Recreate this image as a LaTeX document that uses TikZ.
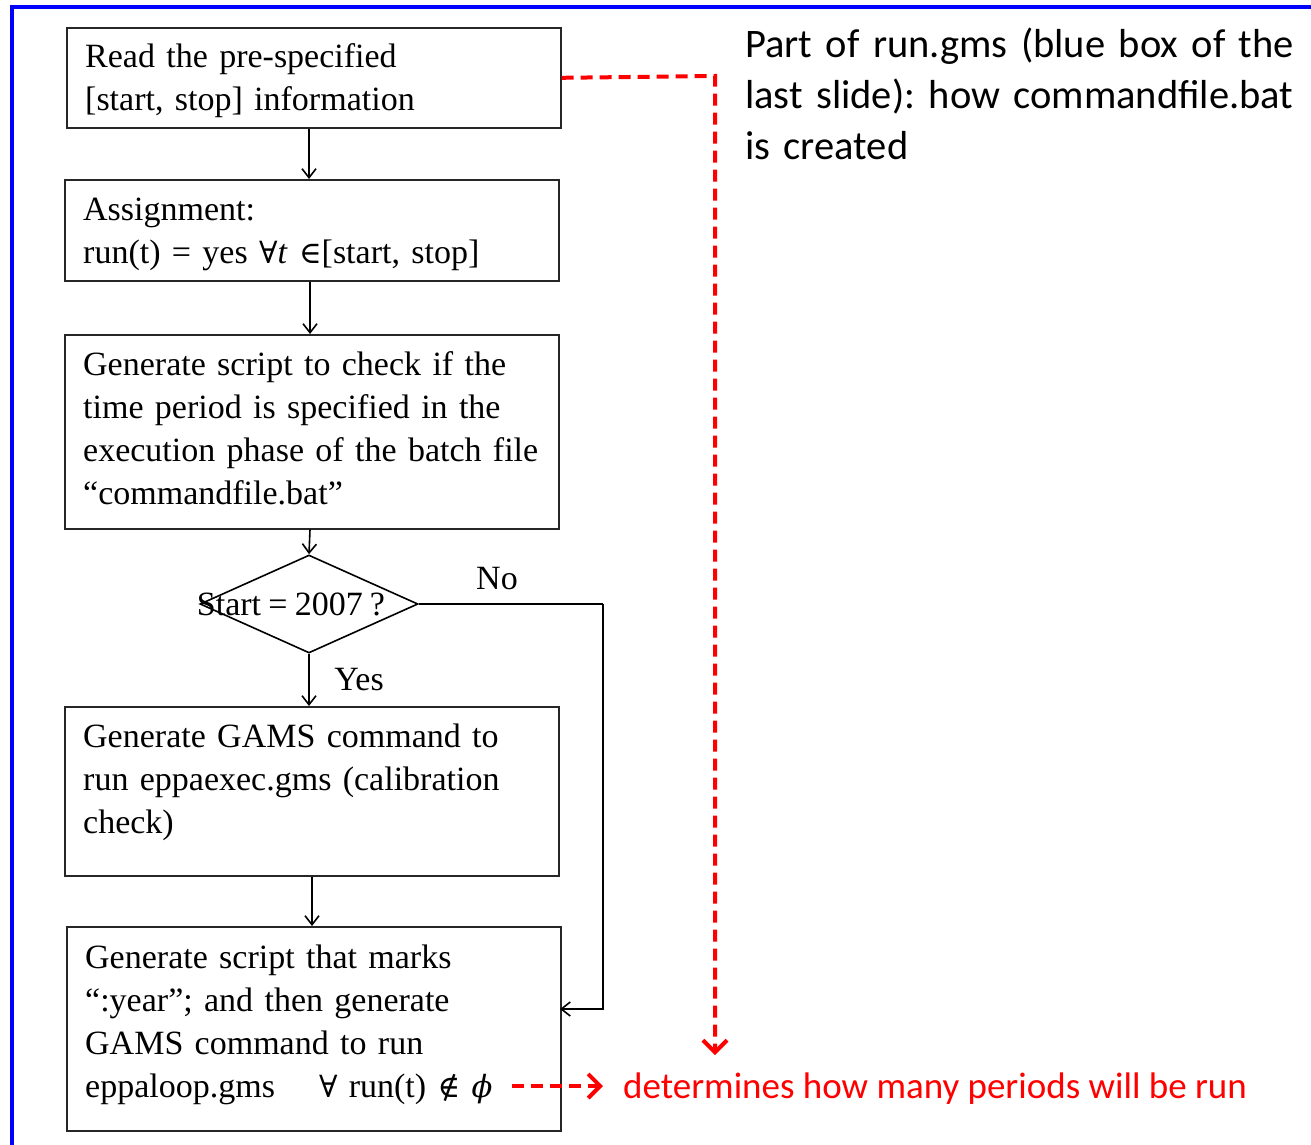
\documentclass[tikz,border=0pt]{standalone}
\usepackage{fontspec}
\setmainfont[WordSpace=0.85]{Liberation Serif}
\newfontfamily\calfont{Carlito}
\newfontfamily\symf[Scale=0.9]{DejaVu Serif}
\usetikzlibrary{arrows.meta,shapes.geometric,calc}
\begin{document}
\frenchspacing
\begin{tikzpicture}[x=1pt,y=-1pt,
  box/.style={draw=black!85, line width=1.6pt, inner sep=0pt, anchor=north west},
  txt/.style={font=\fontsize{34}{43}\selectfont, inner sep=0pt, text width=470pt, align=left, anchor=base west},
  lbl/.style={font=\fontsize{34}{43}\selectfont, inner sep=0pt, anchor=base},
  flow/.style={draw=black, line width=1.6pt, -{Straight Barb[length=9pt,width=14pt,line width=1.6pt]}},
  plain/.style={draw=black, line width=1.6pt},
  reddash/.style={draw=red, line width=4pt, dash pattern=on 12pt off 7pt},
  redtip/.style={-{Straight Barb[length=12pt,width=24pt,line width=4pt]}},
  side/.style={font=\calfont\fontsize{40.5}{51}\selectfont, inner sep=0pt, text width=600pt, align=left, anchor=base west},
]
\useasboundingbox (0,0) rectangle (1311,1145);
\fill[white] (0,0) rectangle (1311,1145);
\draw[blue, line width=4.5pt] (12,1145) -- (12,7) -- (1311,7);

% boxes
\node[box, minimum width=494pt, minimum height=100pt] (b1) at (66,27) {};
\node[box, minimum width=494pt, minimum height=101pt] (b2) at (64,179) {};
\node[box, minimum width=494pt, minimum height=194pt] (b3) at (64,334) {};
\node[diamond, draw=black, line width=1.6pt, inner sep=0pt, minimum width=218pt, minimum height=98pt] (dec) at (309,604) {};
\node[box, minimum width=494pt, minimum height=169pt] (b4) at (64,706) {};
\node[box, minimum width=494pt, minimum height=204pt] (b5) at (66,926) {};

% texts
\node[txt] (t1) at (85,68) {Read the pre-specified\\{[}start, stop{]} information};
\node[txt] (t2) at (83,220) {Assignment:\\run(t) = yes {\symf ∀}\textit{t} {\symf ∈}{[}start, stop{]}};
\node[txt] (t3) at (83,375) {Generate script to check if the\\time period is specified in the\\execution phase of the batch file\\“commandfile.bat”};
\node[lbl] (t4) at (291,615) {Start = 2007 ?};
\node[txt] (t5) at (83,747) {Generate GAMS command to\\run eppaexec.gms (calibration\\check)};
\node[txt] (t6) at (85,968) {Generate script that marks\\“:year”; and then generate\\GAMS command to run\\eppaloop.gms\hspace{44pt}{\symf ∀} run(t) {\symf ∉} {\symf\itshape ϕ}};
\node[lbl] (no) at (497,589) {No};
\node[lbl] (yes) at (359,690) {Yes};

\node[side] (s1) at (745,58) {Part of run.gms (blue box of the\\last slide): how commandfile.bat\\is created};
\node[font=\calfont\fontsize{37}{40}\selectfont, text=red, inner sep=0pt, anchor=base west] (s2) at (623,1098) {determines how many periods will be run};

% flow connectors
\draw[flow] (b1.south -| 309,0) -- (b2.north -| 309,0);
\draw[flow] (b2.south -| 310,0) -- (b3.north -| 310,0);
\draw[flow] (b3.south -| 310,0) -- (dec.north);
\draw[flow] (dec.south) -- (b4.north -| dec.south);
\draw[flow] (b4.south -| 312,0) -- (b5.north -| 312,0);
\coordinate (nocorner) at (603,604);
\coordinate (noend) at (560,1009);
\draw[plain] (dec.east) -- (nocorner);
\draw[flow] (nocorner) |- (noend);

% red connectors
\coordinate (rc1) at (715,76);
\coordinate (rtip) at (715,1055);
\draw[reddash, redtip] (b1.east) -- (rc1) -- (rtip);
\coordinate (ra) at (512,1086);
\coordinate (rb) at (603,1086);
\draw[reddash, redtip] (ra) -- (rb);
\end{tikzpicture}
\end{document}
